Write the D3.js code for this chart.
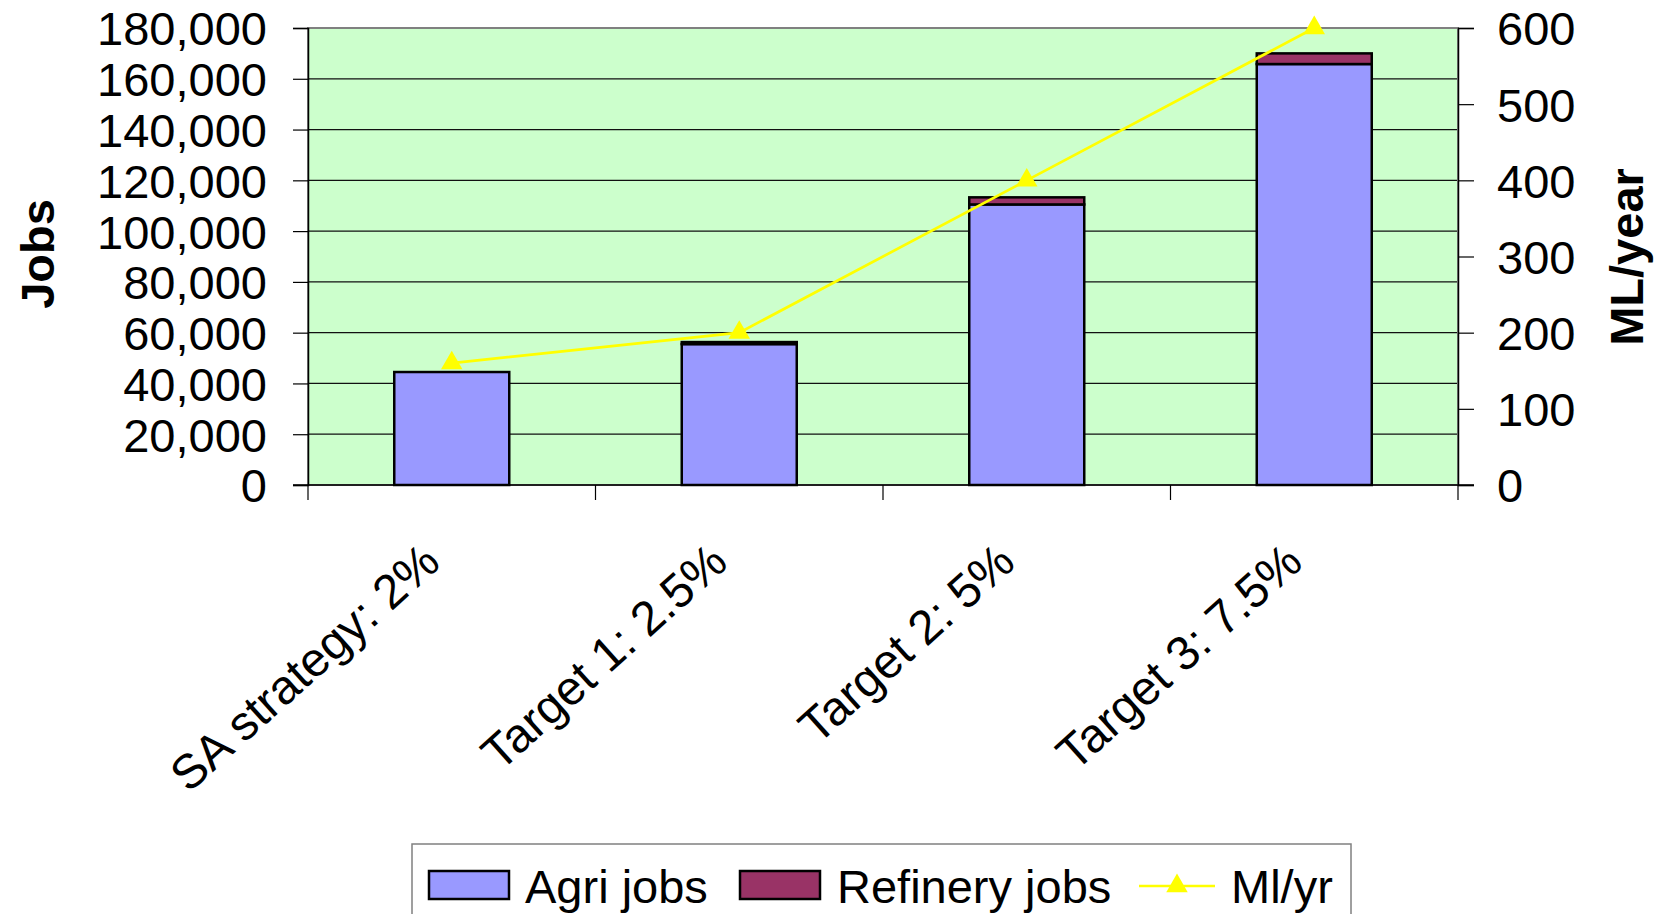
<!DOCTYPE html>
<html>
<head>
<meta charset="utf-8">
<script src="https://cdn.jsdelivr.net/npm/d3@7"></script>
<style>
  body { margin: 0; background: #fff; }
  svg text { font-family: "Liberation Sans", Arial, sans-serif; fill: #000; }
</style>
</head>
<body>
<div id="chart"></div>
<script>
// chart data
var categories = ["SA strategy: 2%", "Target 1: 2.5%", "Target 2: 5%", "Target 3: 7.5%"];
var agriJobs = [44500, 55500, 110500, 165800];
var refineryJobs = [0, 800, 2800, 4200];
var mlPerYear = [160, 200, 400, 600];
var jobTicks = [0, 20000, 40000, 60000, 80000, 100000, 120000, 140000, 160000, 180000];
var mlTicks = [0, 100, 200, 300, 400, 500, 600];

var width = 1661,
    height = 914,
    // plot area
    plotLeft = 308, plotRight = 1458, plotTop = 28, plotBottom = 485,
    fontSize = 47;

var svg = d3.select("#chart").append("svg")
    .attr("width", width).attr("height", height);

var x = d3.scaleBand()
    .domain(categories)
    .range([plotLeft, plotRight])
    .paddingInner(0.6)
    .paddingOuter(0.3);

var y = d3.scaleLinear().domain([0, 180000]).range([plotBottom, plotTop]);
var y2 = d3.scaleLinear().domain([0, 600]).range([plotBottom, plotTop]);

// plot background
svg.append("rect")
    .attr("x", plotLeft).attr("y", plotTop)
    .attr("width", plotRight - plotLeft).attr("height", plotBottom - plotTop)
    .style("fill", "#ccffcc");

// gridlines
svg.append("g").selectAll("line")
    .data(jobTicks.slice(1, -1))
    .enter().append("line")
    .attr("x1", plotLeft).attr("x2", plotRight)
    .attr("y1", function (d) { return y(d); })
    .attr("y2", function (d) { return y(d); })
    .style("stroke", "#111").style("stroke-width", 1.2);

// plot border
svg.append("rect")
    .attr("x", plotLeft).attr("y", plotTop)
    .attr("width", plotRight - plotLeft).attr("height", plotBottom - plotTop)
    .style("fill", "none").style("stroke", "#808080").style("stroke-width", 2);

// stacked bars
var bars = svg.append("g");
categories.forEach(function (c, i) {
    var a = agriJobs[i], r = refineryJobs[i];
    bars.append("rect")
        .attr("x", x(c)).attr("width", x.bandwidth())
        .attr("y", y(a)).attr("height", y(0) - y(a))
        .style("fill", "#9999ff").style("stroke", "#000").style("stroke-width", 2.5);
    if (r > 0) {
        bars.append("rect")
            .attr("x", x(c)).attr("width", x.bandwidth())
            .attr("y", y(a + r)).attr("height", y(a) - y(a + r))
            .style("fill", "#993366").style("stroke", "#000").style("stroke-width", 2.5);
    }
});

// left axis
var leftAxis = svg.append("g")
    .attr("transform", "translate(" + plotLeft + ",0)")
    .call(d3.axisLeft(y).tickValues(jobTicks).tickSize(15).tickPadding(26).tickFormat(d3.format(",")));
leftAxis.select(".domain").style("stroke", "#000").style("stroke-width", 1.5);
leftAxis.selectAll(".tick line").style("stroke", "#000").style("stroke-width", 1.2);
leftAxis.selectAll("text").style("font-size", fontSize + "px").attr("dy", "0.36em");

// right axis
var rightAxis = svg.append("g")
    .attr("transform", "translate(" + plotRight + ",0)")
    .call(d3.axisRight(y2).tickValues(mlTicks).tickSize(16).tickPadding(23));
rightAxis.select(".domain").style("stroke", "#000").style("stroke-width", 1.5);
rightAxis.selectAll(".tick line").style("stroke", "#000").style("stroke-width", 1.2);
rightAxis.selectAll("text").style("font-size", fontSize + "px").attr("dy", "0.36em");

// bottom axis with ticks between categories
var step = x.step();
svg.append("line")
    .attr("x1", plotLeft - 15).attr("x2", plotRight + 16)
    .attr("y1", plotBottom).attr("y2", plotBottom)
    .style("stroke", "#000").style("stroke-width", 1.5);
var bounds = categories.map(function (c) { return x(c) - step * x.paddingInner() / 2; });
bounds.push(plotRight);
svg.append("g").selectAll("line")
    .data(bounds)
    .enter().append("line")
    .attr("x1", function (d) { return d; }).attr("x2", function (d) { return d; })
    .attr("y1", plotBottom).attr("y2", plotBottom + 15)
    .style("stroke", "#000").style("stroke-width", 1.2);

// category labels, rotated
svg.append("g").selectAll("text")
    .data(categories)
    .enter().append("text")
    .attr("transform", function (d) {
        return "translate(" + (x(d) + x.bandwidth() / 2 - 32) + ",540) rotate(-42)";
    })
    .attr("text-anchor", "end")
    .attr("dy", "0.71em")
    .style("font-size", "48px")
    .text(function (d) { return d; });

// Ml/yr line
var line = d3.line()
    .x(function (d, i) { return x(categories[i]) + x.bandwidth() / 2; })
    .y(function (d) { return y2(d); });
svg.append("path")
    .datum(mlPerYear)
    .attr("d", line)
    .style("fill", "none").style("stroke", "#ffff00").style("stroke-width", 2.7);

var tri = d3.symbol().type(d3.symbolTriangle).size(200);
svg.append("g").selectAll("path")
    .data(mlPerYear)
    .enter().append("path")
    .attr("d", tri)
    .attr("transform", function (d, i) {
        return "translate(" + (x(categories[i]) + x.bandwidth() / 2) + "," + y2(d) + ")";
    })
    .style("fill", "#ffff00");

// axis titles
svg.append("text")
    .attr("transform", "translate(37,254) rotate(-90)")
    .attr("text-anchor", "middle").attr("dy", "0.36em")
    .style("font-size", fontSize + "px").style("font-weight", "bold")
    .text("Jobs");
svg.append("text")
    .attr("transform", "translate(1626,257) rotate(-90)")
    .attr("text-anchor", "middle").attr("dy", "0.36em")
    .style("font-size", fontSize + "px").style("font-weight", "bold")
    .text("ML/year");

// legend
var legend = svg.append("g");
legend.append("rect")
    .attr("x", 412).attr("y", 844).attr("width", 939).attr("height", 90)
    .style("fill", "#fff").style("stroke", "#808080").style("stroke-width", 1.5);

var legendItems = [
    { label: "Agri jobs", fill: "#9999ff", sx: 429, tx: 525 },
    { label: "Refinery jobs", fill: "#993366", sx: 740, tx: 837 },
    { label: "Ml/yr", fill: null, sx: 1139, tx: 1231 }
];
legendItems.forEach(function (d) {
    if (d.fill) {
        legend.append("rect")
            .attr("x", d.sx).attr("y", 871).attr("width", 80).attr("height", 28)
            .style("fill", d.fill).style("stroke", "#000").style("stroke-width", 2.5);
    } else {
        legend.append("line")
            .attr("x1", d.sx).attr("x2", d.sx + 76).attr("y1", 886).attr("y2", 886)
            .style("stroke", "#ffff00").style("stroke-width", 2.7);
        legend.append("path")
            .attr("d", tri)
            .attr("transform", "translate(" + (d.sx + 38) + ",886)")
            .style("fill", "#ffff00");
    }
    legend.append("text")
        .attr("x", d.tx).attr("y", 886).attr("dy", "0.36em")
        .style("font-size", fontSize + "px")
        .text(d.label);
});
</script>
</body>
</html>
